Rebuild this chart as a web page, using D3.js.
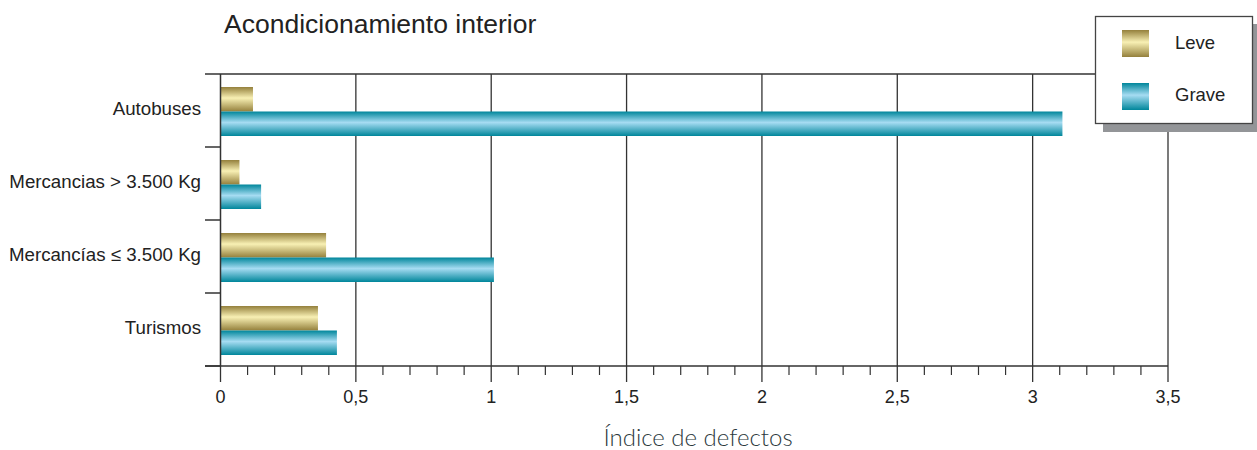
<!DOCTYPE html>
<html><head><meta charset="utf-8">
<script src="https://cdn.jsdelivr.net/npm/d3@7"></script>
<style>body{margin:0;background:#fff}svg{display:block}</style>
</head><body><svg id="c" width="1257" height="450"></svg>
<script>
const categories = ["Autobuses", "Mercancias > 3.500 Kg", "Mercancías ≤ 3.500 Kg", "Turismos"];
const leve = [0.12, 0.07, 0.39, 0.36];
const grave = [3.11, 0.15, 1.01, 0.43];
const seriesNames = ["Leve", "Grave"];
const majorTicks = [0, 0.5, 1, 1.5, 2, 2.5, 3, 3.5];
const tickLabels = ["0", "0,5", "1", "1,5", "2", "2,5", "3", "3,5"];
const title = "Acondicionamiento interior";
const xTitle = "Índice de defectos";

const svg = d3.select("#c");
const x = d3.scaleLinear().domain([0, 3.5]).range([220.5, 1168]);
const y = d3.scaleBand().domain(categories).range([74, 366]).paddingInner(0).paddingOuter(0);
const defs = svg.append("defs");
function grad(id, dark, light) {
  const g = defs.append("linearGradient").attr("id", id).attr("x1", 0).attr("y1", 0).attr("x2", 0).attr("y2", 1);
  g.append("stop").attr("offset", "0%").attr("stop-color", dark);
  g.append("stop").attr("offset", "45%").attr("stop-color", light);
  g.append("stop").attr("offset", "100%").attr("stop-color", dark);
}
grad("gLeve", "#94803c", "#f8f0b4");
grad("gGrave", "#00869b", "#a6dcf2");
const fills = ["url(#gLeve)", "url(#gGrave)"];
const FONT = "Liberation Sans, Arial, sans-serif";

// gridlines
svg.append("g").selectAll("line").data(majorTicks.slice(1, -1)).join("line")
  .attr("x1", d => x(d)).attr("x2", d => x(d)).attr("y1", 74).attr("y2", 366)
  .attr("stroke", "#333").attr("stroke-width", 1.3);
// right edge
svg.append("line").attr("x1", x(3.5)).attr("x2", x(3.5)).attr("y1", 74).attr("y2", 366).attr("stroke", "#333").attr("stroke-width", 1.3);
// top line
svg.append("line").attr("x1", 205).attr("x2", x(3.5)).attr("y1", 74).attr("y2", 74).attr("stroke", "#333").attr("stroke-width", 1.3);

// bars
const bh = 24.5, off = 13;
const data = [];
categories.forEach((c, i) => {
  data.push({c, s: 0, v: leve[i]});
  data.push({c, s: 1, v: grave[i]});
});
svg.append("g").selectAll("rect").data(data).join("rect")
  .attr("x", x(0)).attr("y", d => y(d.c) + off + d.s * bh)
  .attr("width", d => x(d.v) - x(0)).attr("height", bh)
  .attr("fill", d => fills[d.s]);

// left axis
svg.append("line").attr("x1", x(0)).attr("x2", x(0)).attr("y1", 74).attr("y2", 366).attr("stroke", "#333").attr("stroke-width", 1.5);
svg.append("g").selectAll("line").data(categories).join("line")
  .attr("x1", 205).attr("x2", x(0)).attr("y1", d => y(d) + y.bandwidth()).attr("y2", d => y(d) + y.bandwidth())
  .attr("stroke", "#333").attr("stroke-width", 1.5);
svg.append("g").selectAll("text").data(categories).join("text")
  .attr("x", 201).attr("y", d => y(d) + y.bandwidth() / 2 + 4)
  .attr("text-anchor", "end").attr("font-family", FONT)
  .attr("font-size", 18.7).attr("fill", "#222").text(d => d);

// bottom axis
const xAxis = svg.append("g").attr("transform", "translate(0,366)");
xAxis.append("line").attr("x1", 205).attr("x2", x(3.5)).attr("stroke", "#333").attr("stroke-width", 1.5);
const minor = d3.range(0, 36).map(i => i / 10).filter(v => Math.round(v * 10) % 5 !== 0);
xAxis.selectAll("line.minor").data(minor).join("line").attr("class", "minor")
  .attr("x1", d => x(d)).attr("x2", d => x(d)).attr("y1", 0).attr("y2", 9).attr("stroke", "#333").attr("stroke-width", 1.2);
xAxis.selectAll("line.major").data(majorTicks).join("line").attr("class", "major")
  .attr("x1", d => x(d)).attr("x2", d => x(d)).attr("y1", 0).attr("y2", 16).attr("stroke", "#333").attr("stroke-width", 1.3);
xAxis.selectAll("text").data(majorTicks).join("text")
  .attr("x", d => x(d)).attr("y", 37).attr("text-anchor", "middle")
  .attr("font-family", FONT).attr("font-size", 18).attr("fill", "#222")
  .text((d, i) => tickLabels[i]);

// titles
svg.append("text").attr("x", 224).attr("y", 33).attr("font-family", FONT)
  .attr("font-size", 26.5).attr("fill", "#222").text(title);
svg.append("text").attr("x", 698).attr("y", 446).attr("text-anchor", "middle")
  .attr("font-family", "Lato, sans-serif").attr("font-weight", 300).attr("font-size", 24).attr("fill", "#2c393d").text(xTitle);

// legend
const lg = svg.append("g");
lg.append("rect").attr("x", 1103).attr("y", 24).attr("width", 158).attr("height", 108).attr("fill", "#939598");
lg.append("rect").attr("x", 1095.5).attr("y", 16.5).attr("width", 157).attr("height", 107).attr("fill", "#fff").attr("stroke", "#444").attr("stroke-width", 1.3);
seriesNames.forEach((s, i) => {
  lg.append("rect").attr("x", 1122).attr("y", 30 + i * 53).attr("width", 27).attr("height", 27).attr("fill", fills[i]);
  lg.append("text").attr("x", 1175).attr("y", 49 + i * 52).attr("font-family", FONT)
    .attr("font-size", 18.5).attr("fill", "#222").text(s);
});
</script></body></html>
